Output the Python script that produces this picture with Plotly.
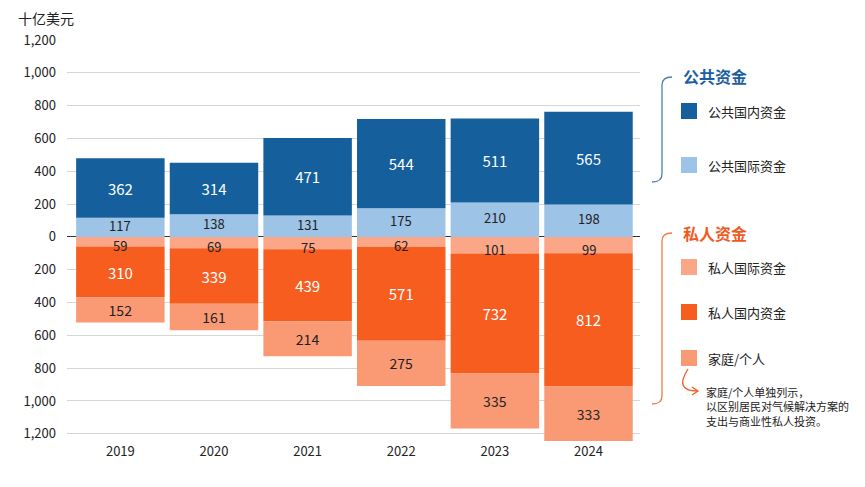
import plotly.graph_objects as go

years = ["2019", "2020", "2021", "2022", "2023", "2024"]
public_domestic = [362, 314, 471, 544, 511, 565]
public_international = [117, 138, 131, 175, 210, 198]
private_international = [59, 69, 75, 62, 101, 99]
private_domestic = [310, 339, 439, 571, 732, 812]
household = [152, 161, 214, 275, 335, 333]

ytick_vals = [-1200, -1000, -800, -600, -400, -200, 0, 200, 400, 600, 800, 1000, 1200]
ytick_text = ["1,200", "1,000", "800", "600", "400", "200", "0", "200", "400", "600", "800", "1,000", "1,200"]

C_PUB_DOM = "#155f9c"
C_PUB_INT = "#9dc3e6"
C_PRI_INT = "#fba687"
C_PRI_DOM = "#f65d1f"
C_HOUSE = "#fa9a74"
C_BLUE_TXT = "#1c5e9e"
C_ORANGE_TXT = "#f05a22"

FONT = "Noto Sans CJK SC, Noto Sans, sans-serif"

# page has an 8px body margin; size the figure so it fills the 865x487 window
OFF = 8
W, H = 865 - OFF, 487 - OFF
L, R, T, B = 59, 225, 32, 45
PW, PH = W - L - R, H - T - B


def px(x):
    """reference-window pixel x -> paper x"""
    return (x - OFF - L) / PW


def py(y):
    """reference-window pixel y -> paper y"""
    return (H - B - (y - OFF)) / PH


fig = go.Figure()


def add_bar(name, vals, color, txtcolor, neg=False, size=14, show_text=True):
    fig.add_trace(go.Bar(
        x=years,
        y=[-v for v in vals] if neg else vals,
        name=name,
        marker=dict(color=color, line=dict(width=0)),
        text=[str(v) for v in vals] if show_text else None,
        textposition="inside" if show_text else "none",
        insidetextanchor="middle",
        textangle=0,
        textfont=dict(color=txtcolor, size=size, family=FONT),
        customdata=vals,
        hovertemplate="%{x}: %{customdata}<extra>" + name + "</extra>",
        showlegend=False,
    ))


add_bar("公共国际资金", public_international, C_PUB_INT, "#222222", show_text=False)
add_bar("公共国内资金", public_domestic, C_PUB_DOM, "#ffffff", size=15)
add_bar("私人国际资金", private_international, C_PRI_INT, "#222222", neg=True, show_text=False)
add_bar("私人国内资金", private_domestic, C_PRI_DOM, "#ffffff", neg=True, size=15)
add_bar("家庭/个人", household, C_HOUSE, "#222222", neg=True)

shapes = []
annotations = []

# labels of the thin segments next to the zero line, nudged apart so they do not collide
for i, v in enumerate(public_international):
    annotations.append(dict(text=str(v), x=i, y=v / 2, xref="x", yref="y", yshift=2,
                            showarrow=False, yanchor="middle", xanchor="center", borderpad=0,
                            font=dict(size=13, color="#222222", family=FONT)))
for i, v in enumerate(private_international):
    annotations.append(dict(text=str(v), x=i, y=-v / 2, xref="x", yref="y", yshift=-4,
                            showarrow=False, yanchor="middle", xanchor="center", borderpad=0,
                            font=dict(size=13, color="#222222", family=FONT)))

# Brackets
for (ytop, ybot, col) in [(77, 182, "#4a7fb5"), (233, 404, "#f4794a")]:
    path = (f"M {px(672)} {py(ytop)} Q {px(662)} {py(ytop)} {px(662)} {py(ytop + 8)} "
            f"L {px(662)} {py(ybot - 8)} Q {px(662)} {py(ybot)} {px(652)} {py(ybot)}")
    shapes.append(dict(type="path", xref="paper", yref="paper", path=path,
                       line=dict(color=col, width=1.3)))

# Headings
annotations.append(dict(text="<b>公共资金</b>", x=px(681), y=py(76), xref="paper", yref="paper",
                        xanchor="left", yanchor="middle", showarrow=False,
                        font=dict(size=16, color=C_BLUE_TXT, family=FONT)))
annotations.append(dict(text="<b>私人资金</b>", x=px(681), y=py(233), xref="paper", yref="paper",
                        xanchor="left", yanchor="middle", showarrow=False,
                        font=dict(size=16, color=C_ORANGE_TXT, family=FONT)))

legend_items = [
    ("公共国内资金", C_PUB_DOM, 111),
    ("公共国际资金", C_PUB_INT, 165),
    ("私人国际资金", C_PRI_INT, 267),
    ("私人国内资金", C_PRI_DOM, 312),
    ("家庭/个人", C_HOUSE, 358),
]
for label, col, yc in legend_items:
    shapes.append(dict(type="rect", xref="paper", yref="paper",
                       x0=px(681), x1=px(697), y0=py(yc + 8), y1=py(yc - 8),
                       fillcolor=col, line=dict(width=0)))
    annotations.append(dict(text=label, x=px(706), y=py(yc), xref="paper", yref="paper",
                            xanchor="left", yanchor="middle", showarrow=False,
                            font=dict(size=13, color="#222222", family=FONT)))

# Curved arrow
shapes.append(dict(type="path", xref="paper", yref="paper",
                   path=f"M {px(688)} {py(369)} Q {px(674)} {py(391)} {px(697)} {py(391)}",
                   line=dict(color=C_ORANGE_TXT, width=1.3)))
shapes.append(dict(type="path", xref="paper", yref="paper",
                   path=f"M {px(692)} {py(387)} L {px(698)} {py(391)} L {px(692)} {py(395)}",
                   line=dict(color=C_ORANGE_TXT, width=1.3)))

annotations.append(dict(text="家庭/个人单独列示，<br>以区别居民对气候解决方案的<br>支出与商业性私人投资。",
                        x=px(704), y=py(382), xref="paper", yref="paper",
                        xanchor="left", yanchor="top", align="left", showarrow=False,
                        font=dict(size=11, color="#222222", family=FONT)))

# Unit label
annotations.append(dict(text="十亿美元", x=px(16), y=py(18), xref="paper", yref="paper",
                        xanchor="left", yanchor="middle", showarrow=False,
                        font=dict(size=14, color="#222222", family=FONT)))

fig.update_layout(
    width=W, height=H,
    margin=dict(l=L, r=R, t=T, b=B),
    barmode="relative",
    bargap=0.055,
    plot_bgcolor="white",
    paper_bgcolor="white",
    font=dict(family=FONT, color="#222222", size=13),
    shapes=shapes,
    annotations=annotations,
    showlegend=False,
)
fig.update_traces(constraintext="none", cliponaxis=False)
fig.update_xaxes(type="category", range=[-0.57, 5.55], showgrid=False, ticks="", showline=False,
                 tickfont=dict(size=13, color="#222222", family=FONT))
fig.update_yaxes(range=[-1250, 1200], tickvals=ytick_vals, ticktext=ytick_text,
                 showgrid=True, gridcolor="#d6d6d6", gridwidth=1,
                 zeroline=True, zerolinecolor="#333333", zerolinewidth=1.2,
                 tickfont=dict(size=13, color="#222222", family=FONT), ticks="",
                 ticklabelstandoff=10)

fig.write_html("out.html")
